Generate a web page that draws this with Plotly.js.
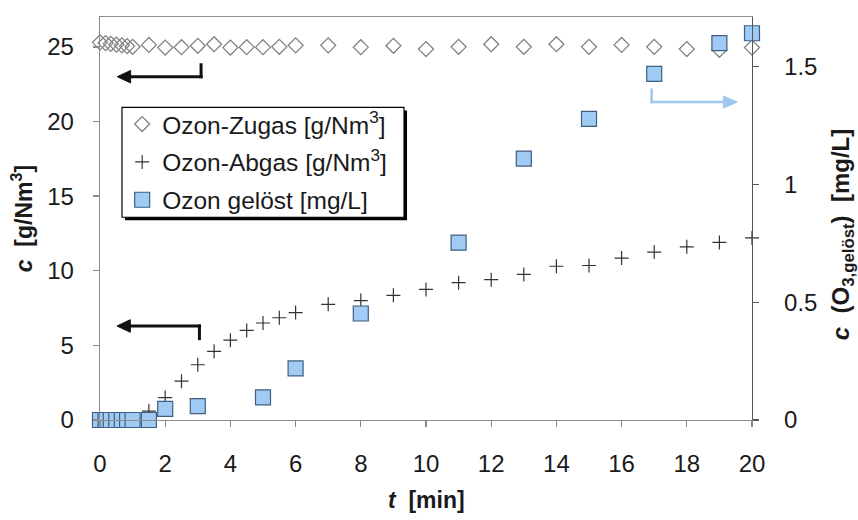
<!DOCTYPE html>
<html>
<head>
<meta charset="utf-8">
<script src="https://cdn.plot.ly/plotly-3.0.1.min.js"></script>
<style>
  html, body { margin: 0; padding: 0; background: #ffffff; }
  #chart { width: 858px; height: 520px; }
</style>
</head>
<body>
<div id="chart"></div>
<script>
// ---- data ----
var tGas = [0, 0.17, 0.33, 0.5, 0.67, 0.83, 1, 1.5, 2, 2.5, 3, 3.5, 4, 4.5, 5, 5.5, 6, 7, 8, 9, 10, 11, 12, 13, 14, 15, 16, 17, 18, 19, 20];
var zugas = [25.3, 25.25, 25.2, 25.15, 25.1, 25.05, 25.0, 25.13, 24.95, 24.98, 25.07, 25.18, 24.95, 24.98, 24.98, 25.0, 25.1, 25.1, 24.98, 25.07, 24.85, 25.0, 25.18, 25.0, 25.18, 25.0, 25.13, 25.0, 24.85, 24.8, 24.95];
var abgas = [0, 0, 0, 0, 0, 0, 0, 0.6, 1.5, 2.6, 3.7, 4.6, 5.35, 6.0, 6.5, 6.85, 7.2, 7.75, 8.0, 8.35, 8.75, 9.2, 9.4, 9.75, 10.3, 10.35, 10.85, 11.25, 11.6, 11.9, 12.2];
var tGeloest = [0, 0.17, 0.33, 0.5, 0.67, 0.83, 1, 1.5, 2, 3, 5, 6, 8, 11, 13, 15, 17, 19, 20];
var geloest = [0, 0, 0, 0, 0, 0, 0, 0, 0.047, 0.059, 0.096, 0.219, 0.452, 0.753, 1.109, 1.278, 1.469, 1.599, 1.641];

var names = ['Ozon-Zugas [g/Nm<sup>3</sup>]', 'Ozon-Abgas [g/Nm<sup>3</sup>]', 'Ozon gelöst [mg/L]'];
var xTicks = [0, 2, 4, 6, 8, 10, 12, 14, 16, 18, 20];
var yTicks = [0, 5, 10, 15, 20, 25];
var y2Ticks = [0, 0.5, 1, 1.5];
var y2TickText = ['0', '0.5', '1', '1.5'];

var FONT = 'Liberation Sans, Arial, sans-serif';
var TXT = '#1a1a1a';

var traces = [
  {
    x: tGas, y: zugas, name: names[0], legendgroup: 'g1', type: 'scatter', mode: 'markers',
    marker: { symbol: 'diamond-open', size: 11.5, color: '#808080', line: { color: '#808080', width: 1.3 } },
    cliponaxis: false
  },
  {
    x: tGas, y: abgas, name: names[1], legendgroup: 'g2', type: 'scatter', mode: 'markers',
    marker: { symbol: 'cross-thin-open', size: 10, color: '#333333', line: { color: '#333333', width: 1.2 } },
    cliponaxis: false
  },
  {
    x: tGeloest, y: geloest, name: names[2], legendgroup: 'g3', type: 'scatter', mode: 'markers', yaxis: 'y2',
    marker: { symbol: 'square', size: 15, color: '#9fcbf5', line: { color: '#3f5f80', width: 1.2 } },
    cliponaxis: false
  }
];

var BLK = '#111111';
var BLUE = '#9fc8f0';

var layout = {
  width: 858, height: 520,
  margin: { l: 100, r: 106, t: 16.5, b: 100, pad: 0 },
  paper_bgcolor: '#ffffff', plot_bgcolor: '#ffffff',
  font: { family: FONT, size: 24, color: TXT },
  showlegend: true,
  legend: {
    x: 0.034, y: 0.79, xanchor: 'left', yanchor: 'top',
    bgcolor: 'rgba(0,0,0,0)', borderwidth: 0,
    font: { family: FONT, size: 24.5, color: TXT },
    traceorder: 'grouped', tracegroupgap: 3,
    itemwidth: 30
  },
  xaxis: {
    range: [0, 20], tickvals: xTicks, ticktext: xTicks.map(String),
    showgrid: false, zeroline: false,
    showline: true, linecolor: '#8c8c8c', linewidth: 1.3, mirror: true,
    ticks: 'outside', ticklen: 6, tickcolor: '#8c8c8c', tickwidth: 1.3,
    ticklabelstandoff: 16,
    tickfont: { family: FONT, size: 24, color: TXT }
  },
  yaxis: {
    range: [0, 27], tickvals: yTicks, ticktext: yTicks.map(String),
    showgrid: false, zeroline: false,
    showline: true, linecolor: '#8c8c8c', linewidth: 1.3,
    ticks: 'outside', ticklen: 6, tickcolor: '#8c8c8c', tickwidth: 1.3,
    ticklabelstandoff: 14,
    tickfont: { family: FONT, size: 24, color: TXT }
  },
  yaxis2: {
    overlaying: 'y', side: 'right', anchor: 'x',
    range: [0, 1.71], tickvals: y2Ticks, ticktext: y2TickText,
    showgrid: false, zeroline: false,
    showline: true, linecolor: '#555555', linewidth: 1.3,
    ticks: 'outside', ticklen: 6, tickcolor: '#555555', tickwidth: 1.3,
    ticklabelstandoff: 20,
    tickfont: { family: FONT, size: 24, color: TXT }
  },
  shapes: [
    // legend box with shadow
    { type: 'rect', xref: 'paper', yref: 'paper', x0: 0.0383, x1: 0.4709, y0: 0.4957, y1: 0.7683,
      fillcolor: '#000000', line: { width: 0 }, layer: 'above' },
    { type: 'rect', xref: 'paper', yref: 'paper', x0: 0.0337, x1: 0.4663, y0: 0.5031, y1: 0.7757,
      fillcolor: '#ffffff', line: { color: '#000000', width: 1.2 }, layer: 'above' },
    // upper black arrow
    { type: 'line', xref: 'x', yref: 'y', x0: 3.1, x1: 3.1, y0: 23.9, y1: 22.9, line: { color: BLK, width: 3 } },
    { type: 'line', xref: 'x', yref: 'y', x0: 3.15, x1: 0.85, y0: 23.0, y1: 23.0, line: { color: BLK, width: 3 } },
    { type: 'path', xref: 'x', yref: 'y', path: 'M0.53,23.0 L0.94,23.42 L0.94,22.58 Z', fillcolor: BLK, line: { color: BLK, width: 1 } },
    // lower black arrow
    { type: 'line', xref: 'x', yref: 'y', x0: 3.05, x1: 3.05, y0: 5.35, y1: 6.4, line: { color: BLK, width: 3 } },
    { type: 'line', xref: 'x', yref: 'y', x0: 3.1, x1: 0.85, y0: 6.3, y1: 6.3, line: { color: BLK, width: 3 } },
    { type: 'path', xref: 'x', yref: 'y', path: 'M0.52,6.3 L0.93,6.72 L0.93,5.88 Z', fillcolor: BLK, line: { color: BLK, width: 1 } },
    // blue arrow (right axis)
    { type: 'line', xref: 'x', yref: 'y2', x0: 16.92, x1: 16.92, y0: 1.407, y1: 1.344, line: { color: BLUE, width: 2.5 } },
    { type: 'line', xref: 'x', yref: 'y2', x0: 16.88, x1: 19.2, y0: 1.349, y1: 1.349, line: { color: BLUE, width: 2.5 } },
    { type: 'path', xref: 'x', yref: 'y2', path: 'M19.55,1.349 L19.12,1.375 L19.12,1.323 Z', fillcolor: BLUE, line: { color: BLUE, width: 1 } }
  ],
  annotations: [
    // axis titles
    { xref: 'paper', yref: 'paper', x: -0.12, y: 0.5, xanchor: 'center', yanchor: 'middle', textangle: -90,
      text: '<b><i>c</i>  [g/Nm<sup>3</sup>]</b>', showarrow: false, font: { family: FONT, size: 23, color: TXT } },
    { xref: 'paper', yref: 'paper', x: 0.5, y: -0.198, xanchor: 'center', yanchor: 'middle',
      text: '<b><i>t</i>  [min]</b>', showarrow: false, font: { family: FONT, size: 23, color: TXT } },
    { xref: 'paper', yref: 'paper', x: 1.138, y: 0.461, xanchor: 'center', yanchor: 'middle', textangle: -90,
      text: '<b><i>c</i>  (O<sub>3,gelöst</sub>)  [mg/L]</b>', showarrow: false, font: { family: FONT, size: 24, color: TXT } }
  ]
};

Plotly.newPlot('chart', traces, layout, { displayModeBar: false, staticPlot: true });
</script>
</body>
</html>
